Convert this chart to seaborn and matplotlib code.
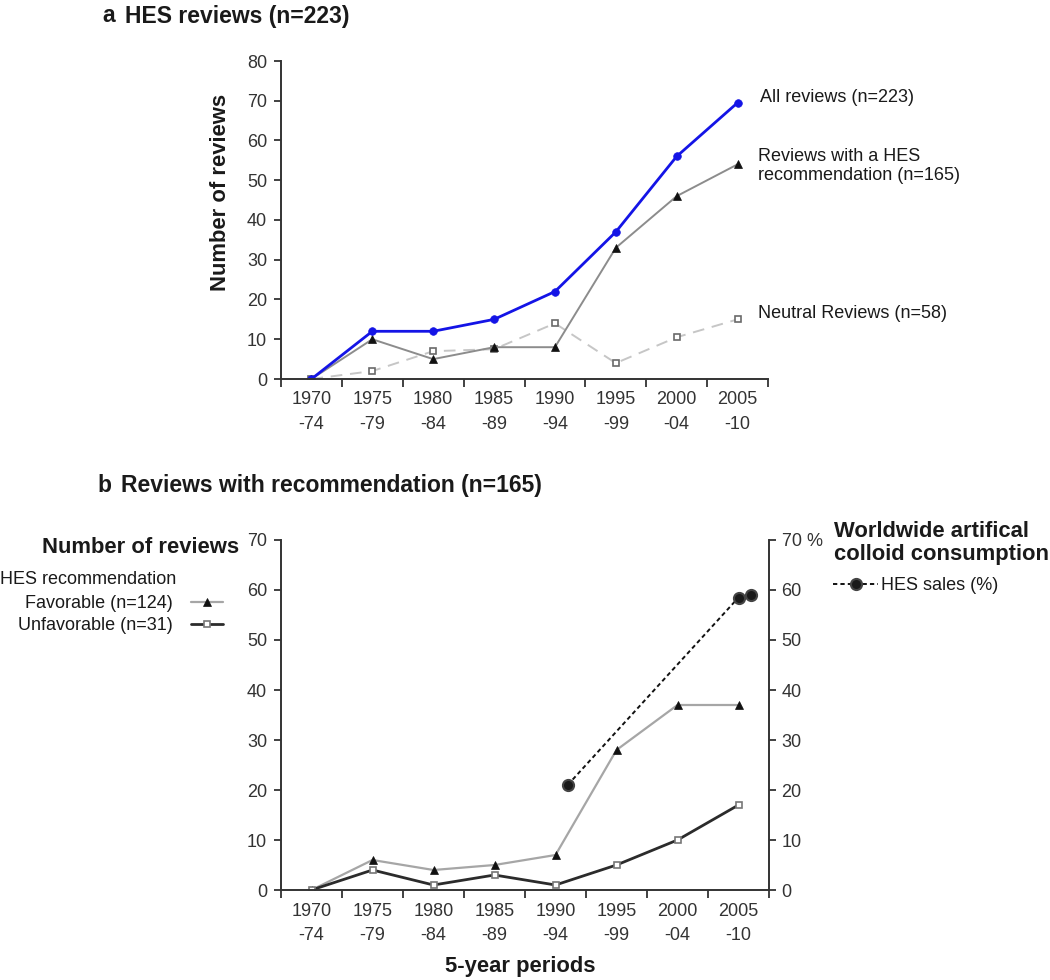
import numpy as np
import pandas as pd
import matplotlib
matplotlib.use("Agg")
import matplotlib.pyplot as plt
import seaborn as sns

# ---------------- data ----------------
periods = ["1970\n-74", "1975\n-79", "1980\n-84", "1985\n-89",
           "1990\n-94", "1995\n-99", "2000\n-04", "2005\n-10"]

# panel a
all_reviews = [0, 12, 12, 15, 22, 37, 56, 69.5]
rec_reviews = [0, 10, 5, 8, 8, 33, 46, 54]
neutral_reviews = [0, 2, 7, 7.5, 14, 4, 10.5, 15]

# panel b
favorable = [0, 6, 4, 5, 7, 28, 37, 37]
unfavorable = [0, 4, 1, 3, 1, 5, 10, 17]
hes_years = [1991, 2005, 2006]
hes_sales = [21, 58.5, 59]

yticks_a = list(range(0, 81, 10))
yticks_b = list(range(0, 71, 10))
right_labels = ["0", "10", "20", "30", "40", "50", "60", "70 %"]

# ---------------- style ----------------
sns.set_theme(style="ticks")
plt.rcParams['font.family'] = ['Liberation Sans', 'DejaVu Sans']
plt.rcParams['text.color'] = '#1a1a1a'

W, H = 1050, 980
fig = plt.figure(figsize=(W / 100, H / 100), dpi=100)


def fx(px):
    return px / W


def fy(py):
    return 1 - py / H


ax_a = fig.add_axes([fx(281), fy(379), (768 - 281) / W, (379 - 61) / H])
ax_b = fig.add_axes([fx(281), fy(890), (769 - 281) / W, (890 - 540) / H])

xpos = np.arange(len(periods))
df_a = pd.DataFrame({"pos": xpos, "all": all_reviews,
                     "rec": rec_reviews, "neutral": neutral_reviews})
df_b = pd.DataFrame({"pos": xpos, "fav": favorable, "unfav": unfavorable})
df_h = pd.DataFrame({"pos": (np.array(hes_years) - 1970) / 5.0,
                     "sales": hes_sales})

axis_col = '#333333'
TICK_FS = 13
TXT_FS = 13
BOLD_FS = 15.8
TITLE_FS = 16.5

# ---------------- panel a ----------------
sns.lineplot(data=df_a, x="pos", y="neutral", ax=ax_a, color="#c6c6c6",
             lw=1.4, linestyle=(0, (6, 4)), marker="s", markersize=5,
             markerfacecolor="white", markeredgecolor="#6a6a6a",
             markeredgewidth=1.2)
sns.lineplot(data=df_a, x="pos", y="rec", ax=ax_a, color="#8c8c8c",
             lw=1.4, marker="^", markersize=5.5, markerfacecolor="#111111",
             markeredgecolor="#111111", markeredgewidth=0.5)
sns.lineplot(data=df_a, x="pos", y="all", ax=ax_a, color="#1414e6",
             lw=2.0, marker="o", markersize=5.5, markerfacecolor="#1414e6",
             markeredgecolor="#1414e6", markeredgewidth=0.5)

ax_a.set_ylim(0, 80)
ax_a.set_yticks(yticks_a)
ax_a.tick_params(axis='y', length=5, width=1.3, color=axis_col, pad=5,
                 labelsize=TICK_FS, labelcolor='#333333')

ax_a.text(7.37, 70.8, "All reviews (n=223)", ha='left', va='center',
          fontsize=TXT_FS, clip_on=False)
ax_a.text(7.33, 53.6, "Reviews with a HES\nrecommendation (n=165)",
          ha='left', va='center', fontsize=TXT_FS, linespacing=1.2,
          clip_on=False)
ax_a.text(7.33, 16.4, "Neutral Reviews (n=58)", ha='left', va='center',
          fontsize=TXT_FS, clip_on=False)

fig.text(fx(221), fy(192), "Number of reviews", rotation=90, ha='center',
         va='center', fontsize=BOLD_FS, fontweight='bold')
fig.text(fx(102), fy(16), "a", ha='left', va='center', fontsize=TITLE_FS,
         fontweight='bold')
fig.text(fx(125), fy(16), "HES reviews (n=223)", ha='left', va='center',
         fontsize=TITLE_FS, fontweight='bold')

# ---------------- panel b ----------------
sns.lineplot(data=df_b, x="pos", y="fav", ax=ax_b, color="#a6a6a6",
             lw=1.6, marker="^", markersize=5.5, markerfacecolor="#111111",
             markeredgecolor="#111111", markeredgewidth=0.5,
             label="Favorable (n=124)")
sns.lineplot(data=df_b, x="pos", y="unfav", ax=ax_b, color="#2b2b2b",
             lw=2.0, marker="s", markersize=5, markerfacecolor="white",
             markeredgecolor="#777777", markeredgewidth=1.2,
             label="Unfavorable (n=31)")
ax_b.set_ylim(0, 70)
ax_b.set_yticks(yticks_b)
ax_b.tick_params(axis='y', length=5, width=1.3, color=axis_col, pad=5,
                 labelsize=TICK_FS, labelcolor='#333333')

ax_b2 = ax_b.twinx()
sns.lineplot(data=df_h, x="pos", y="sales", ax=ax_b2, color="#111111",
             lw=1.4, linestyle=(0, (2.2, 1.6)), marker="o", markersize=8,
             markerfacecolor="#1a1a1a", markeredgecolor="#444444",
             markeredgewidth=1.5, label="HES sales (%)")
ax_b2.set_ylim(0, 70)
ax_b2.set_yticks(yticks_b)
ax_b2.set_yticklabels(right_labels)
ax_b2.tick_params(axis='y', length=5, width=1.3, color=axis_col, pad=4,
                  labelsize=TICK_FS, labelcolor='#333333')
ax_b2.set_ylabel('')
ax_b2.set_xlabel('')

fig.text(fx(97), fy(485), "b", ha='left', va='center', fontsize=TITLE_FS,
         fontweight='bold')
fig.text(fx(121), fy(485), "Reviews with recommendation (n=165)", ha='left',
         va='center', fontsize=TITLE_FS, fontweight='bold')
fig.text(fx(239), fy(547), "Number of reviews", ha='right', va='center',
         fontsize=BOLD_FS, fontweight='bold')
fig.text(fx(0), fy(580), "HES recommendation", ha='left', va='center',
         fontsize=TXT_FS)
fig.text(fx(834), fy(543), "Worldwide artifical\ncolloid consumption",
         ha='left', va='center', fontsize=BOLD_FS, fontweight='bold',
         linespacing=1.1)
fig.text(fx(520), fy(966), "5-year periods", ha='center', va='center',
         fontsize=BOLD_FS, fontweight='bold')

# legends
h_b, l_b = ax_b.get_legend_handles_labels()
ax_b.legend(h_b, l_b, loc='upper right', bbox_to_anchor=(fx(223), fy(595)),
            bbox_transform=fig.transFigure, markerfirst=False, frameon=False,
            handlelength=1.8, handletextpad=1.0, labelspacing=0.3,
            fontsize=TXT_FS, borderpad=0, borderaxespad=0)
h_h, l_h = ax_b2.get_legend_handles_labels()
ax_b2.legend(h_h, l_h, loc='center left', bbox_to_anchor=(fx(833), fy(586)),
             bbox_transform=fig.transFigure, frameon=False,
             handlelength=2.5, handletextpad=0.15, fontsize=TXT_FS,
             borderpad=0, borderaxespad=0)

# ---------------- shared axis styling ----------------
for ax in (ax_a, ax_b):
    ax.set_xlim(-0.5, 7.5)
    ax.set_xticks(xpos)
    ax.set_xticklabels(periods, linespacing=1.55)
    ax.set_xticks(np.arange(-0.5, 8, 1), minor=True)
    ax.tick_params(axis='x', which='major', length=0, pad=9,
                   labelsize=TICK_FS, labelcolor='#333333')
    ax.tick_params(axis='x', which='minor', length=6, width=1.3,
                   color=axis_col, direction='out')
    ax.set_xlabel('')
    ax.set_ylabel('')
    for s in ('left', 'bottom'):
        ax.spines[s].set_color(axis_col)
        ax.spines[s].set_linewidth(1.4)
    ax.spines['top'].set_visible(False)
    ax.spines['right'].set_visible(False)

for s in ('top', 'left', 'bottom'):
    ax_b2.spines[s].set_visible(False)
ax_b2.spines['right'].set_color(axis_col)
ax_b2.spines['right'].set_linewidth(1.4)

fig.savefig("out.png", dpi=100)
